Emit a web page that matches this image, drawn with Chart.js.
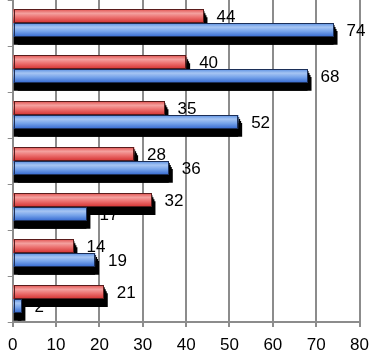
<!DOCTYPE html>
<html>
<head>
<meta charset="utf-8">
<script src="https://cdn.jsdelivr.net/npm/chart.js@4/dist/chart.umd.min.js"></script>
<style>
    html, body { margin: 0; padding: 0; background: #fff; }
</style>
</head>
<body>
<canvas id="myChart" width="377" height="351"></canvas>
<script>
    var categories = ['1', '2', '3', '4', '5', '6', '7'];
    var redValues = [44, 40, 35, 28, 32, 14, 21];
    var blueValues = [74, 68, 52, 36, 17, 19, 2];
    var xTicks = [0, 10, 20, 30, 40, 50, 60, 70, 80];

    var redStops = [[0, '#e0514f'], [0.3, '#f4a19f'], [0.6, '#eb6e6d'], [1, '#d3302f']];
    var blueStops = [[0, '#568ce0'], [0.3, '#a6c5f3'], [0.6, '#76a3ea'], [1, '#3468cf']];
    var labelFont = '17px "Liberation Sans", Arial, sans-serif';
    // the depth of the black "3d" shadow, drawn as a few stacked offsets
    var depthSteps = [[0, 8], [1, 2], [2, 4], [3, 6], [4, 8]];

    // vertical gradient for each bar, built from the bar element itself
    function barGradient(stops) {
        return function (context) {
            var chart = context.chart;
            if (context.dataIndex === undefined) return stops[1][1];
            var bar = chart.getDatasetMeta(context.datasetIndex).data[context.dataIndex];
            if (!bar || bar.y === undefined || isNaN(bar.y) || !bar.height) return stops[1][1];
            var g = chart.ctx.createLinearGradient(0, bar.y - bar.height / 2, 0, bar.y + bar.height / 2);
            stops.forEach(function (s) { g.addColorStop(s[0], s[1]); });
            return g;
        };
    }

    function drawBars(chart, meta, edge) {
        var ctx = chart.ctx;
        depthSteps.forEach(function (d) {
            ctx.save();
            ctx.shadowColor = '#000';
            ctx.shadowOffsetX = d[0];
            ctx.shadowOffsetY = d[1];
            ctx.shadowBlur = 0;
            meta.controller.draw();
            ctx.restore();
        });
        // thin dark outline round each bar
        ctx.save();
        ctx.strokeStyle = edge;
        ctx.lineWidth = 1;
        meta.data.forEach(function (bar) {
            var top = Math.round(bar.y - bar.height / 2) + 0.5;
            var h = Math.round(bar.height) - 1;
            ctx.strokeRect(Math.round(bar.base) + 0.5, top, Math.round(bar.x - bar.base) - 1, h);
        });
        ctx.restore();
    }

    function drawLabels(chart, meta, values) {
        var ctx = chart.ctx;
        ctx.save();
        ctx.font = labelFont;
        ctx.fillStyle = '#000';
        ctx.textAlign = 'left';
        ctx.textBaseline = 'middle';
        meta.data.forEach(function (bar, i) {
            ctx.fillText(String(values[i]), bar.x + 13, bar.y + 1);
        });
        ctx.restore();
    }

    // red first, blue over red's shadow
    var shadowBars = {
        id: 'shadowBars',
        beforeDatasetsDraw: function (chart) {
            var redMeta = chart.getDatasetMeta(0);
            var blueMeta = chart.getDatasetMeta(1);
            drawLabels(chart, blueMeta, blueValues);
            drawBars(chart, redMeta, '#5a1c1c');
            drawLabels(chart, redMeta, redValues);
            drawBars(chart, blueMeta, '#1c2f58');
            return false;
        }
    };

    var ctx = document.getElementById('myChart').getContext('2d');
    var myChart = new Chart(ctx, {
        type: 'bar',
        data: {
            labels: categories,
            datasets: [{
                label: 'red',
                data: redValues,
                backgroundColor: barGradient(redStops),
                borderWidth: 0
            }, {
                label: 'blue',
                data: blueValues,
                backgroundColor: barGradient(blueStops),
                borderWidth: 0
            }]
        },
        options: {
            indexAxis: 'y',
            responsive: false,
            animation: false,
            datasets: { bar: { categoryPercentage: 0.6, barPercentage: 1 } },
            layout: { padding: { top: 0, right: 10, bottom: 0, left: 0 } },
            plugins: {
                legend: { display: false },
                tooltip: { enabled: false }
            },
            scales: {
                x: {
                    min: 0,
                    max: 80,
                    afterBuildTicks: function (s) {
                        s.ticks = xTicks.map(function (v) { return { value: v }; });
                    },
                    ticks: {
                        color: '#000',
                        font: { family: '"Liberation Sans", Arial, sans-serif', size: 17 },
                        padding: 8,
                        maxRotation: 0
                    },
                    grid: { color: '#8c8c8c', lineWidth: 2, tickLength: 5 },
                    border: { color: '#8c8c8c', width: 2 },
                    afterFit: function (s) { s.height = 29; }
                },
                y: {
                    ticks: { display: false },
                    grid: { drawOnChartArea: false, color: '#8c8c8c', lineWidth: 1, tickLength: 5 },
                    border: { color: '#8c8c8c', width: 1 },
                    afterFit: function (s) { s.width = 6; }
                }
            }
        },
        plugins: [shadowBars]
    });
    myChart.update();
</script>
</body>
</html>
